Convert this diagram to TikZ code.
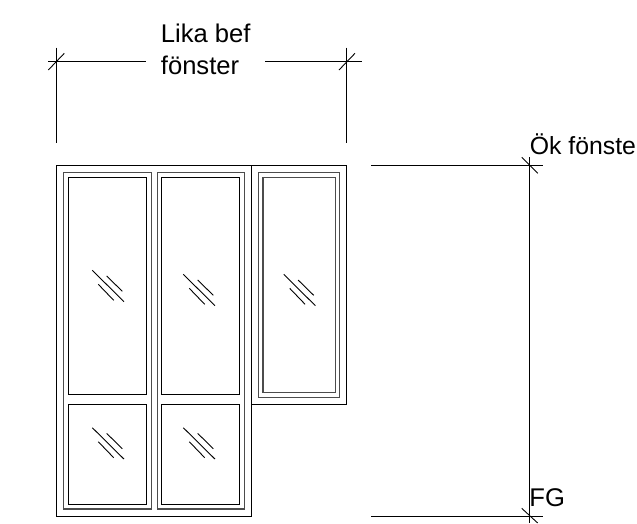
\documentclass[tikz,border=0pt]{standalone}
\usepackage{fontspec}
\setmainfont{Liberation Sans}
\usepackage{tikz}
\usetikzlibrary{positioning}

\begin{document}
\begin{tikzpicture}[x=1pt,y=-1pt,line width=0.8pt,
        pane/.style={draw=black,line width=1pt},
        frameline/.style={draw=black!70,line width=1.2pt},
        dimline/.style={draw=black,line width=0.9pt},
        glare/.style={draw=black,line width=0.9pt},
        dimlabel/.style={anchor=base west,inner sep=0pt,font=\fontsize{25.6}{30}\selectfont}]
        \useasboundingbox (0,0) rectangle (637,523);

        \draw[pane] (56.3,165) -- (251.7,165) -- (251.7,516) -- (56.3,516) -- cycle;
        \draw[pane] (251.7,165) -- (346.5,165) -- (346.5,404) -- (251.7,404);

        \draw[frameline] (63.3,172.7) rectangle (151.3,509);
        \draw[frameline] (157.3,172.7) rectangle (244.3,509);
        \draw[frameline] (258.3,172.7) rectangle (339.7,397.3);

        \draw[pane] (68.3,177.7) rectangle (146.7,394.3);
        \draw[pane] (68.3,404) rectangle (146.7,504);
        \draw[pane] (161.7,177.7) rectangle (239.7,394.3);
        \draw[pane] (161.7,404) rectangle (239.7,504);
        \draw[frameline] (263,177.7) rectangle (335.7,392.7);

        \foreach \dx/\dy in {0/0,91/4,191.4/4,0/157.4,91/157.4} {
            \begin{scope}[xshift=\dx pt,yshift=-\dy pt]
                \draw[glare] (92.3,270.3) -- (124,301.7);
                \draw[glare] (106.7,276) -- (122.3,291.3);
                \draw[glare] (98.3,284.3) -- (113.7,300.3);
            \end{scope}
        }

        \node[dimlabel] (lika) at (160.5,42.3) {Lika bef};
        \node[dimlabel] (fonster) at (160.5,74) {fönster};
        \node[dimlabel,font=\fontsize{24.8}{30}\selectfont] (oppning) at (529.5,154) {Ök fönste};
        \node[dimlabel] (golv) at (529,506) {FG};

        \coordinate (ltop) at (56,47.7);
        \coordinate (lbot) at (56,143);
        \coordinate (rtop) at (346.7,47.7);
        \coordinate (rbot) at (346.7,143);
        \coordinate (lstart) at (48,61.7);
        \coordinate (lend) at (146,61.7);
        \coordinate (rstart) at (265,61.7);
        \coordinate (rend) at (362,61.7);
        \coordinate (vtop) at (529.3,157);
        \coordinate (vbot) at (529.3,523);
        \coordinate (hastart) at (371,165);
        \coordinate (haend) at (543,165);
        \coordinate (hbstart) at (371,516);
        \coordinate (hbend) at (543,516);

        \draw[dimline] (ltop) -- (lbot);
        \draw[dimline] (rtop) -- (rbot);
        \draw[dimline] (lstart) -- (lend);
        \draw[dimline] (rstart) -- (rend);
        \draw[dimline] (vtop) -- (vbot);
        \draw[dimline] (hastart) -- (haend);
        \draw[dimline] (hbstart) -- (hbend);

        \draw[dimline] (48.3,70) -- (64.3,53.3);
        \draw[dimline] (339,70) -- (355,53.3);
        \draw[dimline] (521.7,157.3) -- (537.7,173.3);
        \draw[dimline] (521.7,508.3) -- (537.7,523);
    \end{tikzpicture}
\end{document}
